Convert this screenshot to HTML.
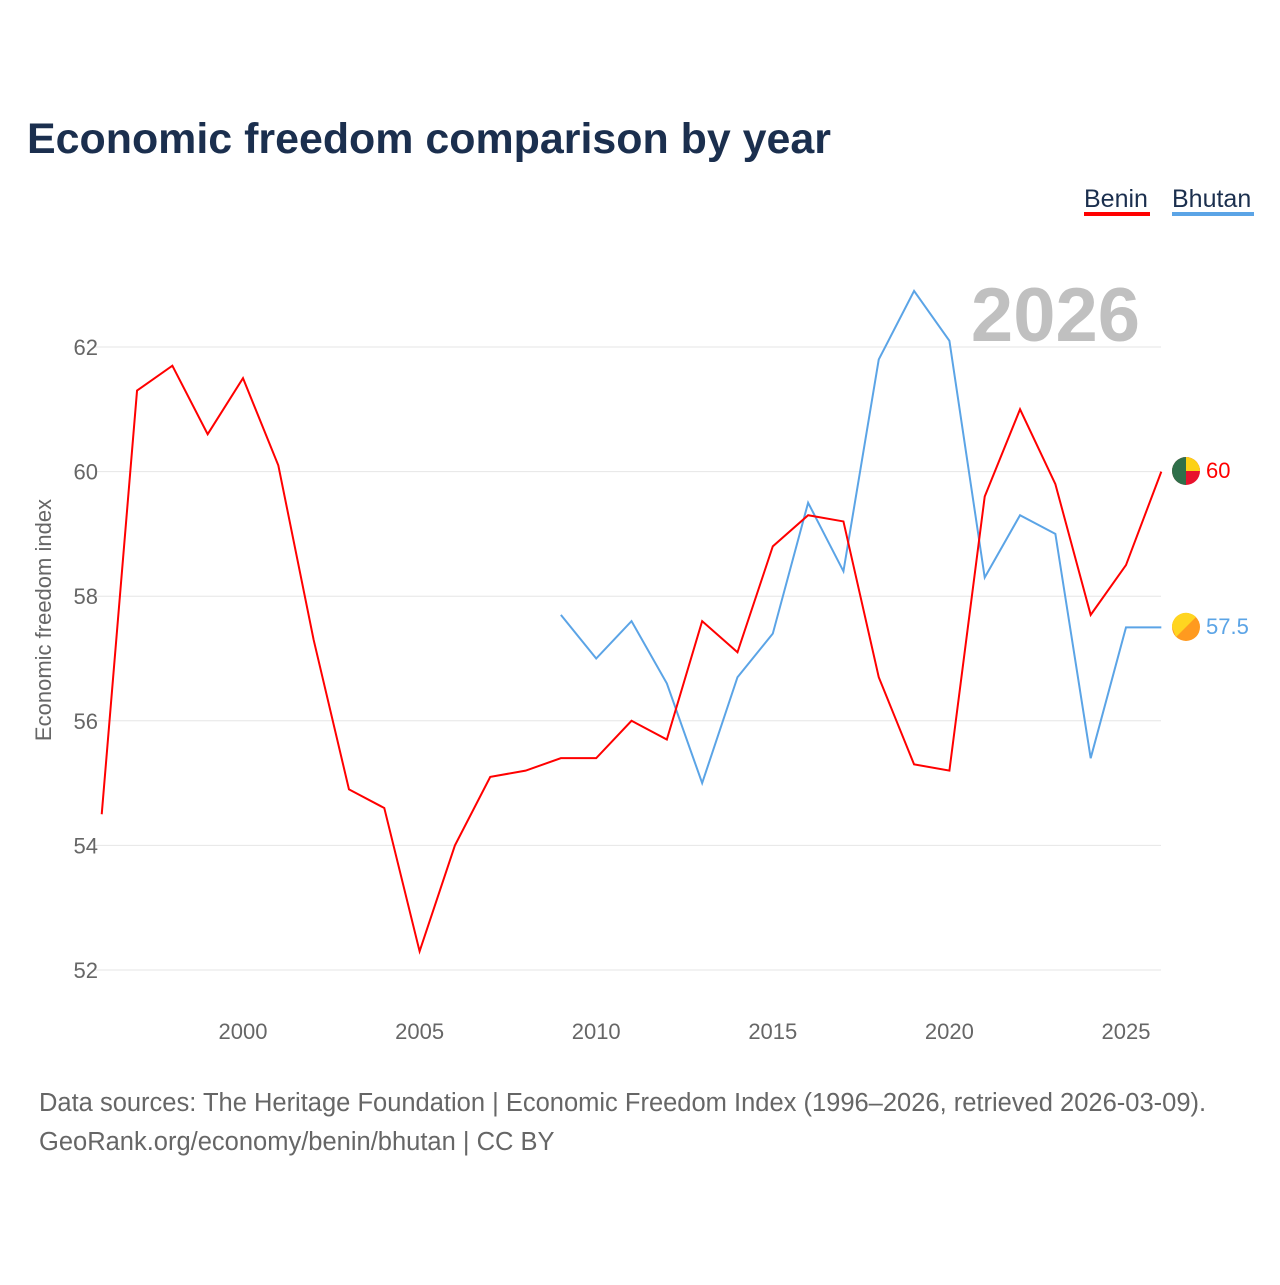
<!DOCTYPE html>
<html><head><meta charset="utf-8"><style>
body{margin:0;background:#fff;font-family:"Liberation Sans",sans-serif}
</style></head><body>
<svg width="1280" height="1280" xmlns="http://www.w3.org/2000/svg" font-family="Liberation Sans, sans-serif">
<text x="27" y="153" font-size="43" font-weight="bold" fill="#1b2f4e" textLength="804" lengthAdjust="spacingAndGlyphs">Economic freedom comparison by year</text>
<g>
<text x="1084" y="207" font-size="25" fill="#1b2f4e">Benin</text>
<rect x="1084" y="212" width="66" height="4" fill="#ff0000"/>
<text x="1172" y="207" font-size="25" fill="#1b2f4e">Bhutan</text>
<rect x="1172" y="212" width="82" height="4" fill="#5ba4e6"/>
</g>
<text x="1140" y="341" font-size="76" font-weight="bold" fill="#c0c0c0" text-anchor="end">2026</text>
<g id="grid"></g><g id="ticks"></g><g id="lines"></g>
<text transform="translate(51,620) rotate(-90)" font-size="22" fill="#666" text-anchor="middle">Economic freedom index</text>
<g>
<circle cx="1186" cy="471" r="14" fill="#e8112d"/>
<path d="M1186 457 A14 14 0 0 1 1200 471 L1186 471Z" fill="#fcd116"/>
<path d="M1186 457 A14 14 0 0 0 1186 485Z" fill="#008751" opacity="0.8"/>
<text x="1206" y="478" font-size="22" fill="#ff0000">60</text>
</g>
<g>
<circle cx="1186" cy="627" r="14" fill="#ff9a1f"/>
<path d="M1172 627 A14 14 0 0 1 1196 617 L1176 637Z" fill="#ffd520"/>
<text x="1206" y="634" font-size="22" fill="#5ba4e6">57.5</text>
</g>
<text x="39" y="1111" font-size="25.5" fill="#666">Data sources: The Heritage Foundation | Economic Freedom Index (1996–2026, retrieved 2026-03-09).</text>
<text x="39" y="1150" font-size="25.5" fill="#666">GeoRank.org/economy/benin/bhutan | CC BY</text>
</svg>
<script>
const beninYears=[1996,1997,1998,1999,2000,2001,2002,2003,2004,2005,2006,2007,2008,2009,2010,2011,2012,2013,2014,2015,2016,2017,2018,2019,2020,2021,2022,2023,2024,2025,2026];
const beninValues=[54.5,61.3,61.7,60.6,61.5,60.1,57.3,54.9,54.6,52.3,54.0,55.1,55.2,55.4,55.4,56.0,55.7,57.6,57.1,58.8,59.3,59.2,56.7,55.3,55.2,59.6,61.0,59.8,57.7,58.5,60.0];
const bhutanYears=[2009,2010,2011,2012,2013,2014,2015,2016,2017,2018,2019,2020,2021,2022,2023,2024,2025,2026];
const bhutanValues=[57.7,57.0,57.6,56.6,55.0,56.7,57.4,59.5,58.4,61.8,62.9,62.1,58.3,59.3,59.0,55.4,57.5,57.5];
const yTicks=[52,54,56,58,60,62];
const xTicks=[2000,2005,2010,2015,2020,2025];
const NS="http://www.w3.org/2000/svg";
const x=y=>243+(y-2000)*35.32;
const yv=v=>347+(62-v)*62.3;
function mk(t,a,p){const e=document.createElementNS(NS,t);for(const k in a)e.setAttribute(k,a[k]);p.appendChild(e);return e;}
const grid=document.getElementById('grid'),ticks=document.getElementById('ticks'),lines=document.getElementById('lines');
yTicks.forEach(v=>{
 const l=mk('line',{x1:95,x2:1161,y1:yv(v),y2:yv(v),stroke:'#e6e6e6','stroke-width':1},grid);
 
 
 const t=mk('text',{x:98,y:yv(v)+8,'font-size':22,fill:'#666','text-anchor':'end'},ticks);
 t.textContent=v;
 
 
});
xTicks.forEach(v=>{
 const t=mk('text',{x:x(v),y:1039,'font-size':22,fill:'#666','text-anchor':'middle'},ticks);
 t.textContent=v;
 
 
});
function line(ys,vs,c,name){
 const p=mk('polyline',{points:ys.map((y,i)=>x(y)+','+yv(vs[i])).join(' '),fill:'none',stroke:c,'stroke-width':2,'stroke-linejoin':'miter'},lines);
 
 
}
line(bhutanYears,bhutanValues,'#5ba4e6','bhutan-line');
line(beninYears,beninValues,'#ff0000','benin-line');
</script>
</body></html>
